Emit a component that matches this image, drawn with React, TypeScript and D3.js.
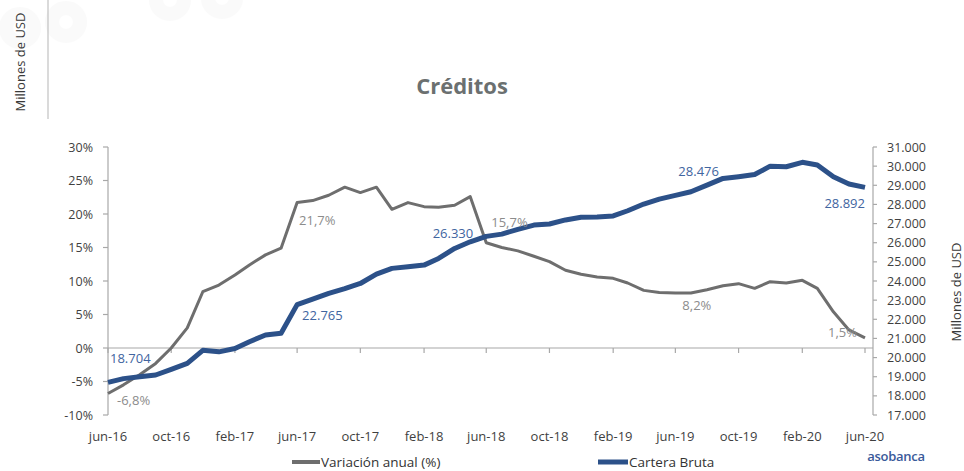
import React from "react";
import * as d3 from "d3";

// ---- data ----
const startMonth = new Date(2016, 5, 1);
const endMonth = new Date(2020, 5, 1);
const tickLabels = ["jun-16", "oct-16", "feb-17", "jun-17", "oct-17", "feb-18", "jun-18", "oct-18", "feb-19", "jun-19", "oct-19", "feb-20", "jun-20"];

const variacionAnual = [
  -6.8, -5.5, -4.0, -2.3, 0.0, 3.0, 8.4, 9.4, 10.9, 12.4, 13.9, 14.9,
  21.7, 22.0, 22.8, 24.0, 23.2, 24.0, 20.7, 21.7, 21.1, 21.0, 21.3, 22.6,
  15.7, 15.0, 14.5, 13.7, 12.9, 11.6, 11.0, 10.6, 10.4, 9.7, 8.6, 8.3,
  8.2, 8.2, 8.7, 9.3, 9.6, 8.9, 9.9, 9.7, 10.1, 8.9, 5.4, 2.7, 1.5,
];
const carteraBruta = [
  18704, 18900, 19000, 19090, 19380, 19700, 20380, 20300, 20470, 20830, 21180, 21270,
  22765, 23050, 23350, 23600, 23870, 24360, 24660, 24750, 24830, 25180, 25700, 26050,
  26330, 26450, 26700, 26920, 26980, 27190, 27330, 27340, 27400, 27670, 28020, 28280,
  28476, 28660, 29010, 29360, 29450, 29560, 30000, 29970, 30200, 30060, 29450, 29070, 28892,
];
const leftTicks = [-10, -5, 0, 5, 10, 15, 20, 25, 30];
const rightTicks = [17000, 18000, 19000, 20000, 21000, 22000, 23000, 24000, 25000, 26000, 27000, 28000, 29000, 30000, 31000];
const grayLabels = [
  { i: 0, text: "-6,8%" },
  { i: 12, text: "21,7%" },
  { i: 24, text: "15,7%" },
  { i: 36, text: "8,2%" },
  { i: 48, text: "1,5%" },
];
const blueLabels = [
  { i: 0, text: "18.704" },
  { i: 12, text: "22.765" },
  { i: 24, text: "26.330" },
  { i: 36, text: "28.476" },
  { i: 48, text: "28.892" },
];

// ---- layout ----
const W = 964, H = 471;
const X0 = 108, X1 = 865, YT = 147, YB = 415, XR = 873;
const GRAY = "#6e6e6e", BLUE = "#2c5189";
const GRAY_TXT = "#8c8c8c", BLUE_TXT = "#41659f";
const AXIS = "#a8a8a8", TICK_TXT = "#3f3f3f";
const FONT = "'Open Sans', 'Noto Sans', sans-serif";

const grayOffsets: Record<number, [number, number, string]> = {
  0: [9, 6, "start"], 12: [2, 17, "start"], 24: [5, -21, "start"], 36: [7, 12, "start"], 48: [-8, -6, "end"],
};
const blueOffsets: Record<number, [number, number, string]> = {
  0: [2, -24, "start"], 12: [5, 10, "start"], 24: [-13, -3, "end"], 36: [3, -24, "start"], 48: [0, 16, "end"],
};

export default function App() {
  const months = d3.timeMonth.range(startMonth, d3.timeMonth.offset(endMonth, 1));
  const x = d3.scaleTime().domain([startMonth, endMonth]).range([X0, X1]);
  const yL = d3.scaleLinear().domain([-10, 30]).range([YB, YT]);
  const yR = d3.scaleLinear().domain([17000, 31000]).range([YB, YT]);
  const tickDates = months.filter((_, i) => i % 4 === 0);

  const grayLine = d3.line<number>().x((_, i) => x(months[i])).y((d) => yL(d)).curve(d3.curveLinear);
  const blueLine = d3.line<number>().x((_, i) => x(months[i])).y((d) => yR(d)).curve(d3.curveLinear);

  return (
    <svg width={W} height={H} style={{ position: "absolute", left: 0, top: 0, background: "#fff" }} fontFamily={FONT}>
      {/* faint watermark */}
      <g opacity={0.035} fill="none" stroke="#888" strokeWidth={14}>
        <circle cx={20} cy={28} r={14} />
        <circle cx={66} cy={22} r={14} />
        <circle cx={170} cy={0} r={14} />
        <circle cx={222} cy={-2} r={14} />
      </g>
      {/* top-left residual axis title */}
      <line x1={48} y1={0} x2={48} y2={119} stroke="#b5b5b5" strokeWidth={1} />
      <text transform="translate(25,62) rotate(-90)" textAnchor="middle" fontSize={13} fill="#3a3a3a">Millones de USD</text>

      {/* title */}
      <text x={462} y={85} textAnchor="middle" dominantBaseline="central" fontSize={22} fontWeight={700} fill="#6b7070">Créditos</text>

      {/* left axis */}
      <line x1={X0} y1={YT} x2={X0} y2={YB} stroke={AXIS} strokeWidth={1.2} />
      {leftTicks.map((t) => (
        <g key={t}>
          <line x1={X0 - 5} x2={X0} y1={yL(t)} y2={yL(t)} stroke={AXIS} strokeWidth={1.2} />
          <text x={93} y={yL(t)} textAnchor="end" dominantBaseline="central" fontSize={12.5} fill={TICK_TXT}>{t}%</text>
        </g>
      ))}

      {/* right axis */}
      <line x1={XR} y1={YT} x2={XR} y2={YB} stroke={AXIS} strokeWidth={1.2} />
      {rightTicks.map((t) => (
        <g key={t}>
          <line x1={XR} x2={XR + 4} y1={yR(t)} y2={yR(t)} stroke={AXIS} strokeWidth={1.2} />
          <text x={887} y={yR(t)} textAnchor="start" dominantBaseline="central" fontSize={12.5} fill={TICK_TXT}>{d3.format(",")(t).replace(/,/g, ".")}</text>
        </g>
      ))}
      <text transform={`translate(956,292) rotate(-90)`} textAnchor="middle" dominantBaseline="central" fontSize={13} fill="#3a3a3a">Millones de USD</text>

      {/* x axis at zero */}
      <line x1={X0} y1={yL(0)} x2={XR} y2={yL(0)} stroke={AXIS} strokeWidth={1.2} />
      {tickDates.map((d, k) => (
        <g key={k}>
          <line x1={x(d)} x2={x(d)} y1={yL(0)} y2={yL(0) + 5} stroke={AXIS} strokeWidth={1.2} />
          <text x={x(d)} y={436} textAnchor="middle" dominantBaseline="central" fontSize={13} fill={TICK_TXT}>{tickLabels[k]}</text>
        </g>
      ))}

      {/* lines */}
      <path d={grayLine(variacionAnual) || ""} fill="none" stroke={GRAY} strokeWidth={3} strokeLinejoin="round" />
      <path d={blueLine(carteraBruta) || ""} fill="none" stroke={BLUE} strokeWidth={5} strokeLinejoin="round" />

      {/* labels */}
      {grayLabels.map((l) => {
        const [dx, dy, anchor] = grayOffsets[l.i];
        return (
          <text key={"g" + l.i} x={x(months[l.i]) + dx} y={yL(variacionAnual[l.i]) + dy} textAnchor={anchor as any} dominantBaseline="central" fontSize={13} fill={GRAY_TXT}>{l.text}</text>
        );
      })}
      {blueLabels.map((l) => {
        const [dx, dy, anchor] = blueOffsets[l.i];
        return (
          <text key={"b" + l.i} x={x(months[l.i]) + dx} y={yR(carteraBruta[l.i]) + dy} textAnchor={anchor as any} dominantBaseline="central" fontSize={13} fill={BLUE_TXT}>{l.text}</text>
        );
      })}

      {/* legend */}
      <line x1={292} x2={320} y1={462} y2={462} stroke={GRAY} strokeWidth={4} />
      <text x={321} y={462} dominantBaseline="central" fontSize={13.5} fill="#333">Variación anual (%)</text>
      <line x1={598} x2={628} y1={462} y2={462} stroke={BLUE} strokeWidth={5} />
      <text x={629} y={462} dominantBaseline="central" fontSize={13.5} fill="#333">Cartera Bruta</text>

      {/* logo */}
      <text x={896} y={456} textAnchor="middle" dominantBaseline="central" fontSize={13} fontWeight={600} fill="#3a5a9a" letterSpacing={-0.3}>asobanca</text>
    </svg>
  );
}
